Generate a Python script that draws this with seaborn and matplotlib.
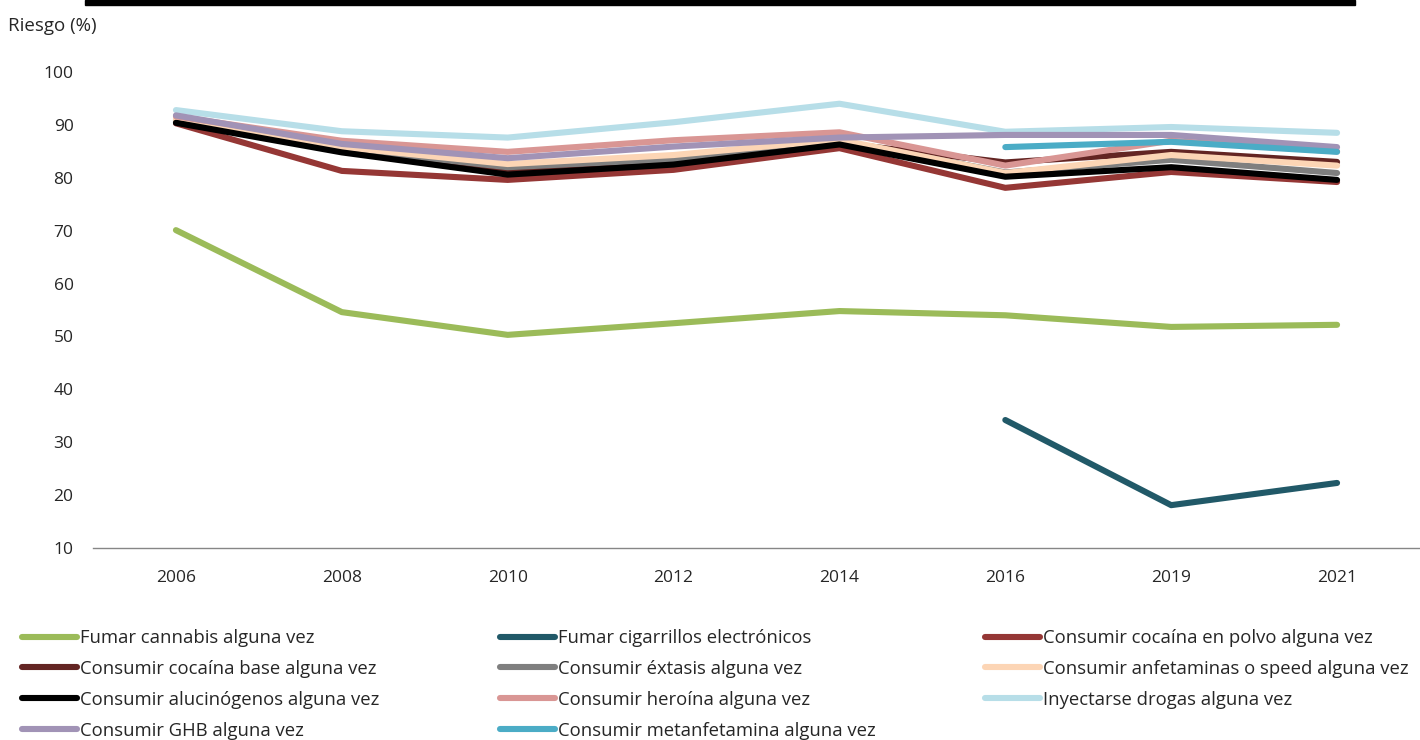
import numpy as np
import pandas as pd
import seaborn as sns
from matplotlib import pyplot as plt
from matplotlib.patches import Rectangle

# data
anios = ["2006", "2008", "2010", "2012", "2014", "2016", "2019", "2021"]
series = [
    "Fumar cannabis alguna vez",
    "Fumar cigarrillos electrónicos",
    "Consumir cocaína en polvo alguna vez",
    "Consumir cocaína base alguna vez",
    "Consumir éxtasis alguna vez",
    "Consumir anfetaminas o speed alguna vez",
    "Consumir alucinógenos alguna vez",
    "Consumir heroína alguna vez",
    "Inyectarse drogas alguna vez",
    "Consumir GHB alguna vez",
    "Consumir metanfetamina alguna vez",
]
cannabis = [70.1, 54.6, 50.3, 52.5, 54.8, 54.0, 51.8, 52.2]
cigarrillos = [np.nan, np.nan, np.nan, np.nan, np.nan, 34.2, 18.1, 22.3]
cocaina_polvo = [90.3, 81.3, 79.6, 81.5, 85.6, 78.1, 81.1, 79.2]
cocaina_base = [90.5, 85.2, 81.2, 83.0, 86.6, 82.9, 84.9, 83.0]
extasis = [90.8, 85.5, 82.0, 83.5, 87.0, 81.0, 83.4, 80.9]
anfetaminas = [91.0, 85.8, 82.6, 84.3, 87.2, 80.9, 84.3, 82.3]
alucinogenos = [90.4, 84.8, 80.6, 82.5, 86.3, 80.2, 82.0, 79.6]
heroina = [91.6, 87.0, 84.9, 87.1, 88.6, 82.3, 87.0, 85.0]
inyectarse = [92.8, 88.8, 87.6, 90.5, 94.0, 88.7, 89.6, 88.5]
ghb = [91.8, 86.4, 83.7, 85.9, 87.6, 88.1, 88.1, 85.8]
metanfetamina = [np.nan, np.nan, np.nan, np.nan, np.nan, 85.8, 86.8, 84.9]

valores = [cannabis, cigarrillos, cocaina_polvo, cocaina_base, extasis, anfetaminas,
           alucinogenos, heroina, inyectarse, ghb, metanfetamina]
colores = ["#9bbb59", "#215968", "#953735", "#632523", "#7f7f7f", "#fcd5b5",
           "#000000", "#d99694", "#b7dee8", "#a193b6", "#4bacc6"]

rows = []
for nombre, vals in zip(series, valores):
    for i, v in enumerate(vals):
        rows.append({"serie": nombre, "pos": i, "riesgo": v})
df = pd.DataFrame(rows).dropna()

sns.set_style("white")
plt.rcParams["font.family"] = ["Open Sans", "DejaVu Sans"]

fig = plt.figure(figsize=(14.2, 7.4), dpi=100)
ax = fig.add_axes([93 / 1420, 1 - 548 / 740, (1420 - 93) / 1420, (548 - 72) / 740])

sns.lineplot(data=df, x="pos", y="riesgo", hue="serie", hue_order=series,
             palette=colores, linewidth=4.4, legend=False, ax=ax,
             solid_capstyle="round")

ax.set_xlim(-0.5, len(anios) - 0.5)
ax.set_ylim(10, 100)
ax.set_yticks(range(10, 101, 10))
ax.set_xticks(range(len(anios)))
ax.set_xticklabels(anios)
ax.set_xticks(np.arange(-0.5, len(anios), 1), minor=True)
ax.tick_params(axis="x", which="major", length=0, pad=16, labelsize=12.5)
ax.tick_params(axis="x", which="minor", length=6, color="#868686", width=1)
ax.tick_params(axis="y", length=0, pad=14, labelsize=12.5)
ax.set_xlabel("")
ax.set_ylabel("")
for s in ["top", "right", "left"]:
    ax.spines[s].set_visible(False)
ax.spines["bottom"].set_color("#868686")
ax.spines["bottom"].set_linewidth(1)

fig.text(8 / 1420, 1 - 26 / 740, "Riesgo (%)", fontsize=13.5, va="center", ha="left")

# top black bar
fig.patches.append(Rectangle((85 / 1420, 1 - 5 / 740), (1355 - 85) / 1420, 5 / 740,
                             transform=fig.transFigure, color="black", zorder=5))

# legend in three columns, filled row by row
col_x = [22, 500, 985]
for c in range(3):
    idx = list(range(c, len(series), 3))
    handles = [plt.Line2D([], [], color=colores[i], linewidth=4.4, solid_capstyle="round")
               for i in idx]
    fig.legend(handles, [series[i] for i in idx], loc="upper left",
               bbox_to_anchor=(col_x[c] / 1420, 1 - 629 / 740), frameon=False,
               fontsize=13.3, handlelength=3.0, handletextpad=0.12,
               labelspacing=0.7, borderaxespad=0, borderpad=0)

fig.savefig("out.png", dpi=100)
